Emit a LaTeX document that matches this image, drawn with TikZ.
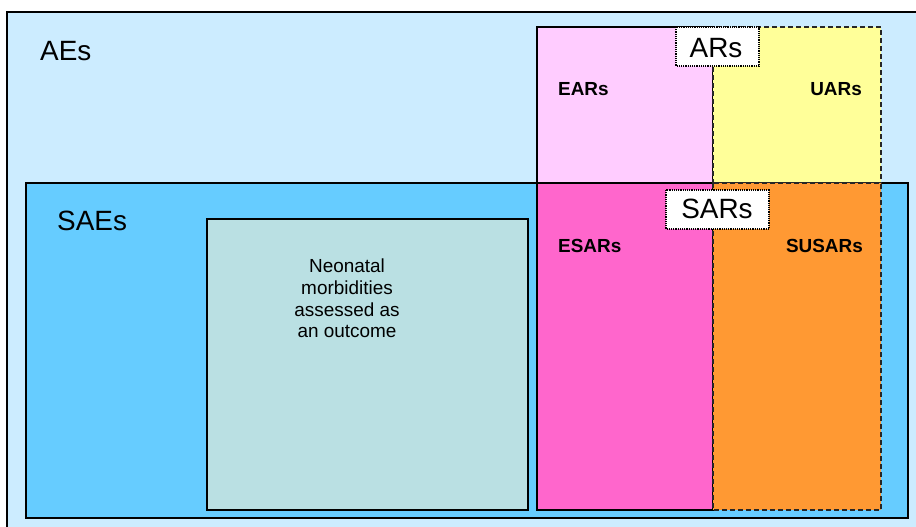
\documentclass[tikz,border=0pt]{standalone}
\usepackage{fontspec}
\setmainfont{Liberation Sans}
\definecolor{aeblue}{HTML}{CCECFF}
\definecolor{saeblue}{HTML}{66CCFF}
\definecolor{neo}{HTML}{BAE0E3}
\definecolor{earpink}{HTML}{FFCCFF}
\definecolor{uaryellow}{HTML}{FFFF99}
\definecolor{esarmag}{HTML}{FF66CC}
\definecolor{susarorange}{HTML}{FF9933}
\tikzset{
  region/.style={draw=black, line width=1.3bp},
  dashregion/.style={draw=black!85, line width=1.5bp, dash pattern=on 5bp off 3bp},
  labelbox/.style={draw=black, fill=white, line width=1.2bp, dash pattern=on 1.2bp off 1bp},
  bigtext/.style={font=\fontsize{28}{32}\selectfont, inner sep=0pt},
  boldtext/.style={font=\bfseries\fontsize{19}{22}\selectfont, inner sep=0pt},
  neotext/.style={font=\fontsize{19}{21.7}\selectfont, inner sep=0pt, align=center}
}
\begin{document}
\begin{tikzpicture}[x=1bp,y=-1bp]
\useasboundingbox (0,0) rectangle (916,527);
\clip (0,0) rectangle (916,527);
\fill[white] (0,0) rectangle (916,527);
% AEs outer box
\path[region, line width=1.8bp, fill=aeblue] (7,12) rectangle (935,545);
% SAEs box
\path[region, fill=saeblue] (26,183) rectangle (908,518);
% Neonatal box
\path[region, fill=neo] (207,219) rectangle (528,510);
% ARs regions
\path[region, fill=earpink] (537,27) rectangle (713,183);
\path[region, fill=esarmag] (537,183) rectangle (713,510);
\path[dashregion, fill=uaryellow] (713,27) rectangle (881,183);
\path[dashregion, fill=susarorange] (713,183) rectangle (881,510);
% label boxes
\path[labelbox] (676,27) rectangle (759,66);
\path[labelbox] (666,190) rectangle (769,229);
% texts
\node[bigtext, anchor=base west] (aes) at (40,61) {AEs};
\node[bigtext, anchor=base west] (saes) at (57,231) {SAEs};
\node[bigtext, anchor=base] (ars) at (716,58) {ARs};
\node[bigtext, anchor=base] (sars) at (717,219) {SARs};
\node[boldtext, anchor=base west] (ears) at (558,96) {EARs};
\node[boldtext, anchor=base east] (uars) at (862,96) {UARs};
\node[boldtext, anchor=base west] (esars) at (558,253) {ESARs};
\node[boldtext, anchor=base east] (susars) at (863,253) {SUSARs};
\node[neotext] (neo) at (347,298.5) {Neonatal\\morbidities\\assessed as\\an outcome};
\end{tikzpicture}
\end{document}
